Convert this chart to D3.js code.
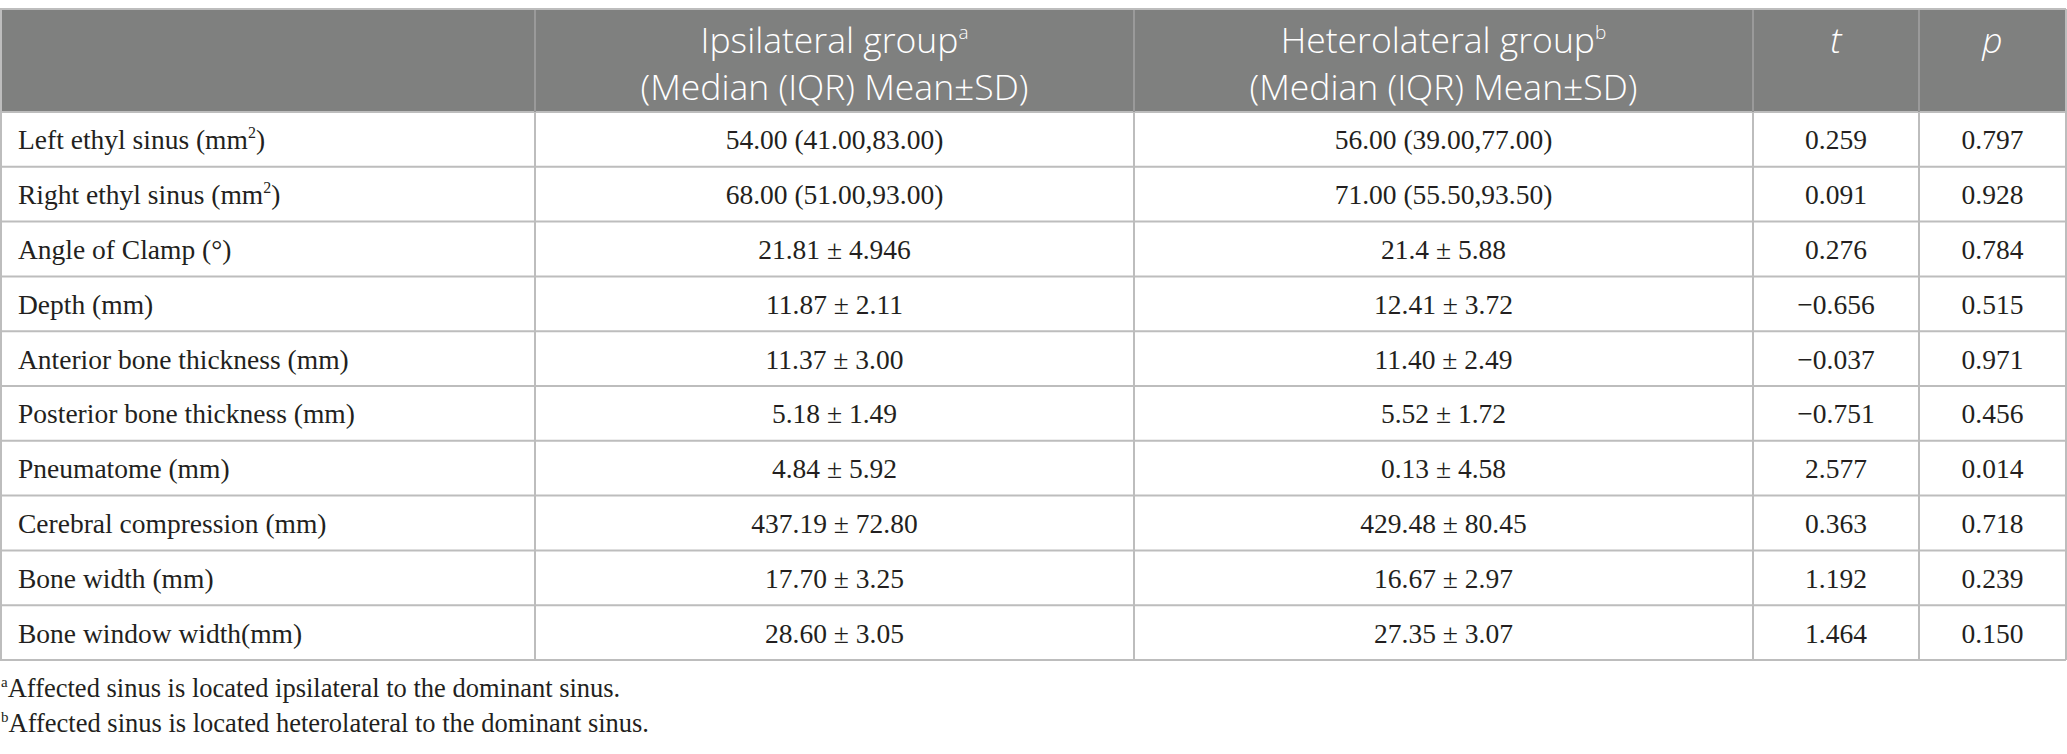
<!DOCTYPE html>
<html>
<head>
<meta charset="utf-8">
<script src="https://cdn.jsdelivr.net/npm/d3@7"></script>
<style>
  html, body { margin: 0; padding: 0; background: #fff; }
  svg { display: block; }
</style>
</head>
<body>
<svg id="chart" width="2067" height="754"></svg>
<script>
// table content
const variables = [
  "Left ethyl sinus (mm|2|)",
  "Right ethyl sinus (mm|2|)",
  "Angle of Clamp (°)",
  "Depth (mm)",
  "Anterior bone thickness (mm)",
  "Posterior bone thickness (mm)",
  "Pneumatome (mm)",
  "Cerebral compression (mm)",
  "Bone width (mm)",
  "Bone window width(mm)"
];
const ipsilateral = [
  "54.00 (41.00,83.00)", "68.00 (51.00,93.00)", "21.81 ± 4.946", "11.87 ± 2.11",
  "11.37 ± 3.00", "5.18 ± 1.49", "4.84 ± 5.92", "437.19 ± 72.80",
  "17.70 ± 3.25", "28.60 ± 3.05"
];
const heterolateral = [
  "56.00 (39.00,77.00)", "71.00 (55.50,93.50)", "21.4 ± 5.88", "12.41 ± 3.72",
  "11.40 ± 2.49", "5.52 ± 1.72", "0.13 ± 4.58", "429.48 ± 80.45",
  "16.67 ± 2.97", "27.35 ± 3.07"
];
const tValues = ["0.259", "0.091", "0.276", "−0.656", "−0.037", "−0.751", "2.577", "0.363", "1.192", "1.464"];
const pValues = ["0.797", "0.928", "0.784", "0.515", "0.971", "0.456", "0.014", "0.718", "0.239", "0.150"];
const columns = ["variable", "ipsi", "hetero", "t", "p"];
const footnotes = [
  ["a", "Affected sinus is located ipsilateral to the dominant sinus."],
  ["b", "Affected sinus is located heterolateral to the dominant sinus."]
];

const svg = d3.select("#chart");
const headFont = "'Open Sans', sans-serif";
const bodyFont = "'Liberation Serif', 'Times New Roman', serif";
const lineColor = "#bdbdbd";

// column edges
const colEdge = d3.scaleOrdinal().domain(columns.concat(["end"])).range([0, 535, 1134, 1753, 1919, 2066]);
const colLeft = c => colEdge(c);
const colRight = c => colEdge(columns[columns.indexOf(c) + 1] || "end");
const colMid = c => (colLeft(c) + colRight(c)) / 2;

const tableTop = 9, headBottom = 112, tableBottom = 660;
const y = d3.scaleBand().domain(d3.range(variables.length)).range([headBottom, tableBottom]).padding(0);

// header background
svg.append("rect")
  .attr("x", 0).attr("y", tableTop)
  .attr("width", colEdge("end")).attr("height", headBottom - tableTop)
  .attr("fill", "#7f807f");

// header text
const head = svg.append("g").attr("fill", "#fff").attr("font-family", headFont)
  .attr("font-size", 35.5).attr("font-weight", 300);
function headCell(col, line1, sup, line2){
  let t = head.append("text").attr("x", colMid(col)).attr("y", 53).attr("text-anchor", "middle");
  t.append("tspan").text(line1);
  if(sup) t.append("tspan").attr("font-size", 19).attr("dy", -14).text(sup);
  if(line2){
    head.append("text").attr("x", colMid(col)).attr("y", 99.5).attr("text-anchor", "middle").text(line2);
  }
}
headCell("ipsi", "Ipsilateral group", "a", "(Median (IQR) Mean±SD)");
headCell("hetero", "Heterolateral group", "b", "(Median (IQR) Mean±SD)");
head.append("text").attr("x", colMid("t")).attr("y", 53).attr("text-anchor", "middle").attr("font-style", "italic").text("t");
head.append("text").attr("x", colMid("p")).attr("y", 53).attr("text-anchor", "middle").attr("font-style", "italic").text("p");

// rows
const rows = variables.map((v, i) => ({
  i: i, variable: v, ipsi: ipsilateral[i], hetero: heterolateral[i], t: tValues[i], p: pValues[i]
}));

const body = svg.append("g").attr("font-family", bodyFont).attr("font-size", 27.5).attr("fill", "#231f20");

const rowG = body.selectAll("g.row")
  .data(rows)
  .enter()
  .append("g")
  .attr("class", "row")
  .attr("transform", function(d){ return "translate(0," + (y(d.i) + y.bandwidth() / 2 + 10) + ")"; });

rowG.each(function(d){
  let g = d3.select(this);
  let parts = d.variable.split("|");
  let lab = g.append("text").attr("x", 18);
  lab.append("tspan").text(parts[0]);
  if(parts.length > 1){
    lab.append("tspan").attr("font-size", 16).attr("dy", -11).text(parts[1]);
    lab.append("tspan").attr("dy", 11).text(parts[2]);
  }
  ["ipsi", "hetero", "t", "p"].forEach(function(c){
    g.append("text").attr("x", colMid(c)).attr("text-anchor", "middle").text(d[c]);
  });
});

// grid lines
const grid = svg.append("g").attr("stroke", lineColor).attr("stroke-width", 2).attr("fill", "none");
grid.selectAll("line.h")
  .data(d3.range(variables.length + 1))
  .enter()
  .append("line")
  .attr("x1", 0).attr("x2", colEdge("end"))
  .attr("y1", function(d){ return y(d) !== undefined ? y(d) : tableBottom; })
  .attr("y2", function(d){ return y(d) !== undefined ? y(d) : tableBottom; });
grid.selectAll("line.v")
  .data(columns.slice(1).concat(["end"]))
  .enter()
  .append("line")
  .attr("x1", function(d){ return colEdge(d); })
  .attr("x2", function(d){ return colEdge(d); })
  .attr("y1", tableTop).attr("y2", tableBottom);
grid.append("line").attr("x1", 1).attr("x2", 1).attr("y1", tableTop).attr("y2", tableBottom);
grid.append("line").attr("x1", 0).attr("x2", colEdge("end")).attr("y1", tableTop).attr("y2", tableTop);

// header inner dividers are lighter
svg.append("g").attr("stroke", "#9a9a9a").attr("stroke-width", 2)
  .selectAll("line")
  .data(columns.slice(1))
  .enter()
  .append("line")
  .attr("x1", function(d){ return colEdge(d); })
  .attr("x2", function(d){ return colEdge(d); })
  .attr("y1", tableTop + 1).attr("y2", headBottom);

// footnotes
const foot = svg.append("g").attr("font-family", bodyFont).attr("font-size", 26.5).attr("fill", "#231f20");
foot.selectAll("text")
  .data(footnotes)
  .enter()
  .append("text")
  .attr("x", 1)
  .attr("y", function(d, i){ return 697 + i * 35; })
  .each(function(d){
    let t = d3.select(this);
    t.append("tspan").attr("font-size", 15).attr("dy", -10).text(d[0]);
    t.append("tspan").attr("dy", 10).text(d[1]);
  });
</script>
</body>
</html>
